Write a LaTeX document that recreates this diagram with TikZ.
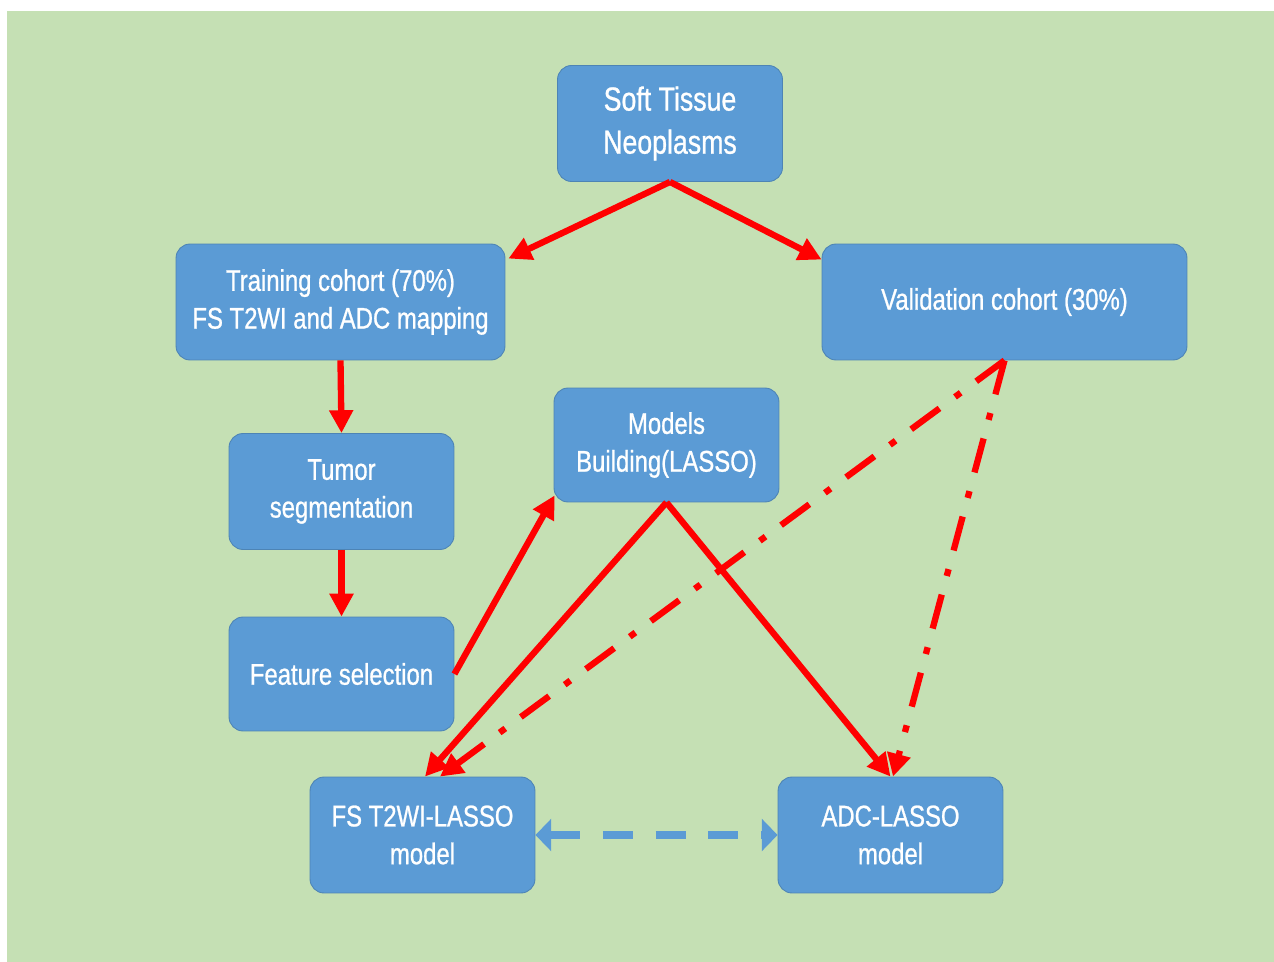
\documentclass[tikz,border=0pt]{standalone}
\usepackage{fontspec}
\setmainfont{Liberation Sans}[FakeStretch=0.8, FakeBold=0.8]
\usetikzlibrary{arrows.meta}
\definecolor{bggreen}{HTML}{C5E0B4}
\definecolor{boxblue}{HTML}{5B9BD5}
\definecolor{arrred}{HTML}{FF0000}
\tikzset{
  box/.style={rectangle, rounded corners=8pt, draw=boxblue!85!black, line width=0.5pt,
    fill=boxblue, text=white, align=center, minimum width=4.5cm, minimum height=2.32cm,
    font=\fontsize{17}{21.5}\selectfont},
  flow/.style={arrred, line width=3.6pt, -{Triangle[length=13pt, width=13pt]}},
  flowdd/.style={flow, dash pattern=on 20pt off 11pt on 4pt off 11pt},
  link/.style={boxblue, line width=4.5pt, dash pattern=on 17pt off 13pt,
    {Triangle[length=9pt, width=18pt]}-{Triangle[length=9pt, width=18pt]}},
}
\begin{document}
\begin{tikzpicture}[x=0.02cm, y=-0.02cm]

  % page and background
  \useasboundingbox (0,0) rectangle (1274,962);
  \fill[bggreen] (7,11) rectangle (1274,962);

  % boxes
  \node[box, font=\fontsize{19}{24.5}\selectfont] (soft) at (670,123.5) {Soft Tissue\\Neoplasms};
  \node[box, minimum width=6.58cm] (train) at (340.5,302) {Training cohort (70\%)\\FS T2WI and ADC mapping};
  \node[box, minimum width=7.3cm] (valid) at (1004.5,302) {Validation cohort (30\%)};
  \node[box] (tumor) at (341.5,491.5) {Tumor\\segmentation};
  \node[box, minimum height=2.28cm] (models) at (666.5,445) {Models\\Building(LASSO)};
  \node[box, minimum height=2.28cm] (feat) at (341.5,674) {Feature selection};
  \node[box] (fsm) at (422.5,835) {FS T2WI-LASSO\\model};
  \node[box] (adcm) at (890.5,835) {ADC-LASSO\\model};

  % split into cohorts
  \draw[flow] (soft.south) -- ([xshift=0.06cm, yshift=-0.3cm]train.north east);
  \draw[flow] (soft.south) -- ([yshift=-0.32cm]valid.north west);

  % training pipeline
  \draw[flow] (train.south) -- (tumor.north);
  \draw[flow] (tumor.south) -- (feat.north);
  \draw[flow] (feat.east) -- ([xshift=0.02cm, yshift=0.14cm]models.south west);

  % models
  \draw[flow] (models.south) -- ([xshift=0.05cm]fsm.north);
  \draw[flow] (models.south) -- (adcm.north);

  % validation
  \draw[flowdd] (valid.south) -- ([xshift=0.35cm]fsm.north);
  \draw[flowdd] (valid.south) -- ([xshift=0.05cm]adcm.north);

  % comparison
  \draw[link] (fsm.east) -- (adcm.west);

\end{tikzpicture}
\end{document}
